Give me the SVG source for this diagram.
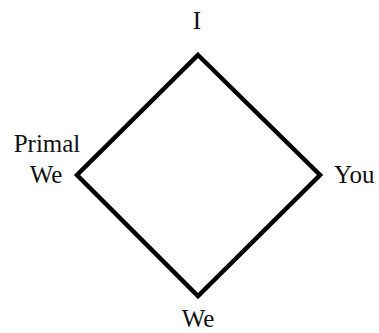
<svg xmlns="http://www.w3.org/2000/svg" width="379" height="333" viewBox="0 0 379 333">
<style>
text{font-family:'Liberation Serif','Times New Roman',serif;font-size:25px;fill:#111;}
.edge{fill:none;stroke:#000;stroke-width:4.5;stroke-linejoin:miter;}
</style>
<rect width="379" height="333" fill="#fff"/>
<g id="connectors">
<polygon class="edge" points="198,55 320,175 198,296 77,175"/>
</g>
<g id="node-I"><text x="197" y="29" text-anchor="middle">I</text></g>
<g id="node-You"><text x="334" y="183">You</text></g>
<g id="node-We"><text x="198" y="327" text-anchor="middle">We</text></g>
<g id="node-PrimalWe"><text x="47" y="152" text-anchor="middle">Primal</text><text x="46" y="183" text-anchor="middle">We</text></g>
</svg>
